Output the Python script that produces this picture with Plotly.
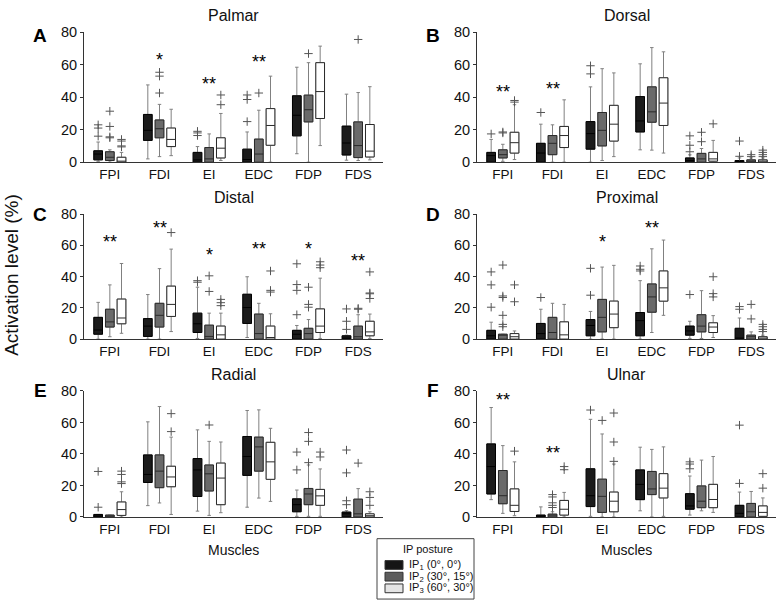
import plotly.graph_objects as go

FONT = "Liberation Sans, Arial, sans-serif"

muscles = ["FPI", "FDI", "EI", "EDC", "FDP", "FDS"]
posture_labels = ["IP<sub>1</sub> (0°, 0°)", "IP<sub>2</sub> (30°, 15°)", "IP<sub>3</sub> (60°, 30°)"]
panel_titles = ["Palmar", "Dorsal", "Distal", "Proximal", "Radial", "Ulnar"]
panel_letters = ["A", "B", "C", "D", "E", "F"]

# ---- values per muscle, each entry = [IP1, IP2, IP3] ----
# Palmar
palmar_q1 = [[1.4, 1.0, 0.0], [13.4, 15.0, 9.6], [0.0, 0.0, 2.6], [0.0, 0.0, 10.4], [16.2, 24.8, 26.9], [4.4, 2.8, 3.2]]
palmar_med = [[5.0, 3.0, 0.6], [19.6, 20.6, 14.0], [1.4, 2.0, 8.6], [1.6, 5.0, 22.6], [28.9, 32.3, 43.5], [11.8, 10.2, 6.8]]
palmar_q3 = [[7.0, 6.4, 3.0], [29.4, 26.0, 21.0], [6.0, 9.0, 15.0], [8.0, 14.2, 33.0], [40.9, 41.3, 61.3], [22.2, 24.8, 23.2]]
palmar_lo = [[0.5, 0.0, 0.0], [2.0, 3.4, 4.0], [0.0, 0.0, 1.0], [0.0, 0.0, 0.0], [5.2, 0.0, 10.2], [1.2, 1.0, 1.4]]
palmar_hi = [[12.4, 7.6, 6.0], [47.6, 35.6, 32.6], [9.6, 17.4, 30.0], [18.6, 32.0, 53.0], [58.5, 61.3, 71.5], [41.9, 42.9, 46.5]]
palmar_out = [[[23, 21, 16], [31.4, 22, 15.6, 15], [14, 13, 10, 9.4]],
              [[], [55.4, 53, 42.6], []],
              [[19, 18, 16.4], [], [41.4, 35.4]],
              [[41.4, 38.6, 25], [42.6], []],
              [[], [66.9], []],
              [[], [75.6], []]]
palmar_stars = ["", "*", "**", "**", "*", ""]
palmar_star_y = [0, 65.4, 50.6, 64.0, 84.0, 0]

# Dorsal
dorsal_q1 = [[0.0, 2.6, 5.6], [0.0, 4.6, 9.0], [8.0, 10.0, 13.0], [18.6, 24.6, 22.6], [0.0, 0.0, 0.6], [0.0, 0.0, 0.0]]
dorsal_med = [[4.0, 4.6, 12.0], [5.6, 11.6, 16.4], [17.6, 19.6, 23.4], [25.4, 31.0, 36.4], [1.0, 2.0, 2.0], [0.4, 0.4, 0.4]]
dorsal_q3 = [[6.0, 7.6, 18.4], [11.6, 16.4, 22.0], [25.0, 30.6, 35.0], [40.4, 46.4, 52.0], [2.6, 5.4, 6.0], [1.0, 1.4, 1.4]]
dorsal_lo = [[0.0, 0.5, 1.6], [0.0, 0.0, 0.0], [0.0, 1.0, 3.4], [7.6, 7.4, 5.6], [0.0, 0.0, 0.0], [0.0, 0.0, 0.0]]
dorsal_hi = [[14.0, 11.0, 35.4], [23.4, 23.0, 38.4], [46.4, 57.6, 55.0], [60.6, 70.6, 68.0], [4.5, 8.4, 13.4], [2.6, 2.6, 2.6]]
dorsal_out = [[[17.4], [18.6, 18], [38, 37]],
              [[30.6], [], []],
              [[59.4, 54.4], [], []],
              [[], [], []],
              [[16.2, 10.4, 6.4], [18.4, 12.6], [23.6]],
              [[13, 3.6], [4.6, 3.4], [7.4, 6, 4.6, 3.4]]]
dorsal_stars = ["**", "**", "", "", "", ""]
dorsal_star_y = [45.4, 47.4, 0, 0, 0, 0]

# Distal
distal_q1 = [[3.1, 7.7, 9.8], [1.7, 7.7, 14.5], [4.2, 0.0, 0.0], [10.0, 0.0, 0.0], [0.0, 0.0, 4.2], [0.0, 0.0, 2.1]]
distal_med = [[5.8, 11.0, 13.5], [8.3, 15.2, 22.2], [9.8, 1.7, 2.7], [20.2, 3.5, 1.0], [3.1, 3.5, 8.3], [0.4, 1.5, 4.6]]
distal_q3 = [[13.9, 19.1, 25.6], [13.1, 22.9, 33.9], [16.6, 8.9, 8.3], [28.7, 16.0, 8.3], [5.6, 6.9, 19.3], [2.1, 8.3, 11.4]]
distal_lo = [[0.0, 1.5, 3.7], [0.0, 0.0, 4.8], [0.4, 0.0, 0.0], [1.0, 0.0, 0.0], [0.0, 0.0, 0.4], [0.0, 0.0, 0.4]]
distal_hi = [[23.5, 34.7, 48.4], [28.5, 45.1, 57.6], [33.2, 16.6, 16.6], [39.9, 22.9, 16.2], [8.7, 12.5, 39.0], [2.5, 15.6, 16.0]]
distal_out = [[[], [], []],
              [[], [], [68.2]],
              [[37.4, 36.4], [40.5, 30.5], [25.4, 23.3, 21.4]],
              [[], [], [43.6, 31.2, 30.1]],
              [[48.2, 34.9, 31.2, 15.6], [33.2, 22.2, 20.4], [49.5, 47.4, 45.7]],
              [[19.3, 11.4, 6.2], [19.7, 19.1], [43, 29.5, 29, 26]]]
distal_stars = ["**", "**", "*", "**", "*", "**"]
distal_star_y = [64.4, 73.4, 56.7, 60.3, 60.3, 52.4]

# Proximal
proximal_q1 = [[0.0, 0.0, 0.0], [0.0, 0.0, 0.0], [2.1, 4.6, 7.3], [2.1, 17.2, 24.3], [2.5, 4.6, 4.2], [0.0, 0.0, 0.0]]
proximal_med = [[2.1, 2.7, 1.5], [3.5, 4.2, 2.7], [8.7, 13.9, 16.0], [11.8, 27.0, 32.8], [5.2, 8.3, 7.7], [0.4, 1.5, 0.6]]
proximal_q3 = [[5.6, 3.1, 3.5], [10.0, 13.9, 11.0], [12.5, 25.4, 24.3], [17.0, 35.3, 43.6], [8.3, 15.6, 10.4], [6.9, 2.5, 1.5]]
proximal_lo = [[0.0, 0.0, 0.0], [0.0, 0.0, 0.0], [0.0, 0.0, 0.0], [0.0, 4.2, 15.2], [0.4, 0.4, 1.0], [0.0, 0.0, 0.0]]
proximal_hi = [[10.8, 3.1, 5.2], [19.1, 22.9, 22.2], [17.7, 46.1, 47.2], [37.4, 57.8, 63.4], [11.4, 31.0, 15.0], [13.5, 4.6, 2.5]]
proximal_out = [[[43, 34.7, 20.4], [47.4, 27.6, 26.6, 15.2, 9.4, 7.9], [34.7, 23.9]],
                [[26.6], [], []],
                [[45.3, 28.1], [], []],
                [[46.8, 44.7, 43.6], [], []],
                [[28.5], [], [39.9, 29.1, 27]],
                [[20.8, 19.1], [22.2, 12.9], [9.4, 7.9, 6.2, 4.8]]]
proximal_stars = ["", "", "*", "**", "", ""]
proximal_star_y = [0, 0, 64.4, 73.4, 0, 0]

# Radial
radial_q1 = [[0.0, 0.0, 1.0], [21.9, 18.6, 19.2], [13.0, 16.5, 7.8], [26.4, 29.1, 23.9], [3.3, 7.8, 7.4], [0.0, 0.0, 0.0]]
radial_med = [[0.6, 0.6, 4.7], [27.0, 29.1, 25.4], [29.9, 27.4, 24.7], [38.4, 44.5, 35.0], [7.8, 14.6, 13.4], [2.0, 2.0, 0.8]]
radial_q3 = [[1.6, 1.2, 9.5], [39.4, 39.4, 32.2], [37.1, 33.0, 34.2], [51.1, 50.7, 47.4], [11.5, 18.1, 17.5], [3.1, 11.3, 2.0]]
radial_lo = [[0.0, 0.0, 0.0], [7.2, 8.9, 1.6], [3.7, 1.0, 2.7], [6.2, 12.0, 9.9], [0.4, 0.4, 0.4], [0.0, 0.0, 0.0]]
radial_hi = [[1.6, 1.2, 16.0], [60.4, 70.1, 50.7], [55.3, 48.0, 47.6], [67.6, 68.0, 56.3], [17.1, 33.0, 30.5], [4.0, 18.0, 3.3]]
radial_out = [[[28.9, 6.2], [], [29.1, 27, 22.3, 21.2]],
              [[], [], [65.6, 54.2]],
              [[], [58.4], []],
              [[], [], []],
              [[41.2, 29.9], [53.6, 48, 34.5], [41.2, 38.1]],
              [[42.5, 28, 10.3, 7.8], [34.2], [16, 12.4, 7.4]]]
radial_stars = ["", "", "", "", "", ""]
radial_star_y = [0, 0, 0, 0, 0, 0]

# Ulnar
ulnar_q1 = [[14.6, 8.4, 3.5], [0.0, 0.0, 1.2], [6.6, 2.9, 3.3], [11.0, 14.2, 12.1], [4.9, 5.9, 5.9], [0.0, 0.0, 0.4]]
ulnar_med = [[32.0, 13.5, 7.4], [0.6, 1.2, 4.9], [13.5, 13.1, 10.0], [20.7, 17.8, 18.3], [7.0, 10.0, 11.1], [2.3, 3.3, 2.9]]
ulnar_q3 = [[46.4, 29.5, 17.8], [1.2, 1.8, 10.5], [30.6, 24.0, 15.8], [29.9, 28.9, 27.5], [14.8, 19.7, 20.7], [7.4, 8.6, 7.0]]
ulnar_lo = [[11.0, 2.3, 0.8], [0.0, 0.0, 0.0], [0.4, 0.0, 0.0], [3.9, 0.0, 0.4], [1.2, 3.9, 2.9], [0.0, 0.0, 0.0]]
ulnar_hi = [[69.5, 45.3, 35.0], [6.4, 3.3, 15.6], [62.0, 52.7, 33.6], [44.3, 42.9, 44.5], [26.0, 36.1, 38.4], [15.8, 16.2, 12.1]]
ulnar_out = [[[], [], [41.8]],
             [[], [14.2, 12.7, 9, 7.4, 6], [32, 30]],
             [[67.9], [61.3], [66, 47.6, 35.3]],
             [[], [], []],
             [[35, 33.6, 30.6], [], []],
             [[58.3, 21.3], [], [27.5, 18.3]]]
ulnar_stars = ["**", "**", "", "", "", ""]
ulnar_star_y = [76.7, 42.9, 0, 0, 0, 0]

panels = [
    (palmar_q1, palmar_med, palmar_q3, palmar_lo, palmar_hi, palmar_out, palmar_stars, palmar_star_y),
    (dorsal_q1, dorsal_med, dorsal_q3, dorsal_lo, dorsal_hi, dorsal_out, dorsal_stars, dorsal_star_y),
    (distal_q1, distal_med, distal_q3, distal_lo, distal_hi, distal_out, distal_stars, distal_star_y),
    (proximal_q1, proximal_med, proximal_q3, proximal_lo, proximal_hi, proximal_out, proximal_stars, proximal_star_y),
    (radial_q1, radial_med, radial_q3, radial_lo, radial_hi, radial_out, radial_stars, radial_star_y),
    (ulnar_q1, ulnar_med, ulnar_q3, ulnar_lo, ulnar_hi, ulnar_out, ulnar_stars, ulnar_star_y),
]

# ---- styling / layout ----
W, H = 777, 609
fills = ["#1b1b1b", "#6a6a6a", "#ffffff"]
edges = ["#000000", "#2a2a2a", "#2a2a2a"]
legend_fills = ["#151515", "#5c5c5c", "#e4e4e4"]
whisker_col = "#808080"
offsets = [-0.235, 0.0, 0.235]
box_w = 0.175

col_px = [(84, 383), (477, 776)]
row_px = [(25, 158.3), (211.7, 340), (393.3, 522.7)]


def px_x(v):
    return v / W


def px_y(v):
    return 1 - v / H


fig = go.Figure()
annotations = []
shapes = []
layout_axes = {}

for p, (q1, med, q3, lo, hi, out, stars, star_y) in enumerate(panels):
    n = p + 1
    xa = "x" if n == 1 else f"x{n}"
    ya = "y" if n == 1 else f"y{n}"
    col = p % 2
    row = p // 2
    x0, x1 = col_px[col]
    yt, yb = row_px[row]
    for k in range(3):
        xpos = [i + 1 + offsets[k] for i in range(len(muscles))]
        common = dict(x=xpos, width=box_w, xaxis=xa, yaxis=ya, hoverinfo="skip",
                      showlegend=False, boxpoints=False, orientation="v")
        # whiskers
        fig.add_trace(go.Box(
            q1=[q1[i][k] for i in range(6)], median=[med[i][k] for i in range(6)],
            q3=[q3[i][k] for i in range(6)], lowerfence=[lo[i][k] for i in range(6)],
            upperfence=[hi[i][k] for i in range(6)], whiskerwidth=0.4,
            line=dict(color=whisker_col, width=1), fillcolor="rgba(0,0,0,0)", **common))
        # box body + median
        fig.add_trace(go.Box(
            q1=[q1[i][k] for i in range(6)], median=[med[i][k] for i in range(6)],
            q3=[q3[i][k] for i in range(6)], lowerfence=[q1[i][k] for i in range(6)],
            upperfence=[q3[i][k] for i in range(6)], whiskerwidth=0,
            line=dict(color=edges[k], width=1), fillcolor=fills[k], **common))
        # outliers
        ox, oy = [], []
        for i in range(6):
            for v in out[i][k]:
                ox.append(xpos[i])
                oy.append(v)
        fig.add_trace(go.Scatter(
            x=ox, y=oy, mode="markers", xaxis=xa, yaxis=ya, hoverinfo="skip",
            showlegend=False, cliponaxis=False,
            marker=dict(symbol="cross-thin", size=6, line=dict(color="#555555", width=1))))
    # significance stars
    for i, s in enumerate(stars):
        if s:
            annotations.append(dict(x=i + 1, y=star_y[i], xref=xa, yref=ya, text=s,
                                    showarrow=False, yshift=-4,
                                    font=dict(family=FONT, size=18, color="#000")))
    layout_axes["xaxis" if n == 1 else f"xaxis{n}"] = dict(
        domain=[px_x(x0), px_x(x1)], anchor=ya, range=[0.48, 6.5],
        tickmode="array", tickvals=list(range(1, 7)), ticktext=muscles,
        showline=True, linecolor="#333", linewidth=1, ticks="", showgrid=False,
        zeroline=False, tickfont=dict(family=FONT, size=13.5, color="#111"))
    layout_axes["yaxis" if n == 1 else f"yaxis{n}"] = dict(
        domain=[px_y(yb), px_y(yt)], anchor=xa, range=[0, 80],
        tickvals=[0, 20, 40, 60, 80], showline=True, linecolor="#333", linewidth=1,
        ticks="outside", ticklen=3, tickcolor="#333", showgrid=False, zeroline=False,
        tickfont=dict(family=FONT, size=14.5, color="#111"))
    # title and panel letter
    annotations.append(dict(x=px_x((x0 + x1) / 2), y=px_y(yt - 17), xref="paper", yref="paper",
                            text=panel_titles[p], showarrow=False, xanchor="center", yanchor="middle",
                            font=dict(family=FONT, size=16, color="#111")))
    annotations.append(dict(x=px_x(x0 - 44), y=px_y(yt + 3 if row == 0 else yt), xref="paper", yref="paper",
                            text=f"<b>{panel_letters[p]}</b>", showarrow=False, xanchor="center",
                            yanchor="middle", font=dict(family=FONT, size=19, color="#000")))
    if row == 2:
        annotations.append(dict(x=px_x((x0 + x1) / 2), y=px_y(yb + 34), xref="paper", yref="paper",
                                text="Muscles", showarrow=False, xanchor="center", yanchor="middle",
                                font=dict(family=FONT, size=14, color="#111")))

# y-axis title
annotations.append(dict(x=px_x(12), y=px_y(274), xref="paper", yref="paper",
                        text="Activation level (%)", textangle=-90, showarrow=False,
                        xanchor="center", yanchor="middle",
                        font=dict(family=FONT, size=19, color="#111")))

# custom legend box
lx0, lx1, ly0, ly1 = 377, 474, 545, 607
shapes.append(dict(type="rect", xref="paper", yref="paper",
                   x0=px_x(lx0), x1=px_x(lx1), y0=px_y(ly1), y1=px_y(ly0),
                   line=dict(color="#444", width=1), fillcolor="white"))
annotations.append(dict(x=px_x(428), y=px_y(556), xref="paper", yref="paper", text="IP posture",
                        showarrow=False, xanchor="center", yanchor="middle",
                        font=dict(family=FONT, size=11, color="#111")))
for k in range(3):
    cy = 572 + 12 * k
    shapes.append(dict(type="rect", xref="paper", yref="paper",
                       x0=px_x(385), x1=px_x(403), y0=px_y(cy + 4.5), y1=px_y(cy - 4.5),
                       line=dict(color="#333", width=1), fillcolor=legend_fills[k]))
    annotations.append(dict(x=px_x(407), y=px_y(cy), xref="paper", yref="paper",
                            text=posture_labels[k], showarrow=False, xanchor="left", yanchor="middle",
                            font=dict(family=FONT, size=11, color="#111")))

fig.update_layout(
    width=W, height=H, autosize=False,
    margin=dict(l=0, r=0, t=0, b=0),
    paper_bgcolor="white", plot_bgcolor="white",
    showlegend=False, annotations=annotations, shapes=shapes,
    font=dict(family=FONT, color="#111"),
    **layout_axes,
)

fig.write_html("out.html", config={"displayModeBar": False},
               post_script="document.body.style.margin='0';document.body.style.padding='0';")
